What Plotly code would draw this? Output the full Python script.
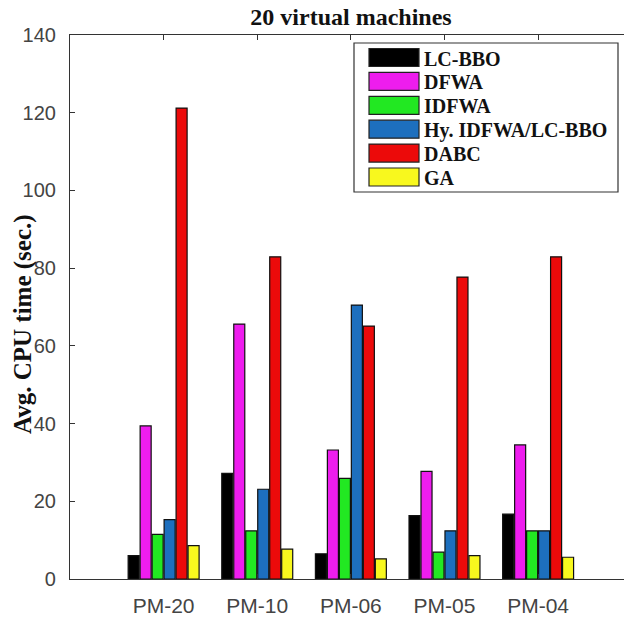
import plotly.graph_objects as go

categories = ["PM-20", "PM-10", "PM-06", "PM-05", "PM-04"]
series_names = ["LC-BBO", "DFWA", "IDFWA", "Hy. IDFWA/LC-BBO", "DABC", "GA"]
lc_bbo = [6.0, 27.2, 6.5, 16.3, 16.7]
dfwa = [39.4, 65.6, 33.2, 27.7, 34.5]
idfwa = [11.5, 12.4, 25.9, 6.9, 12.4]
hy_idfwa_lcbbo = [15.3, 23.1, 70.5, 12.4, 12.4]
dabc = [121.2, 82.9, 65.1, 77.7, 82.9]
ga = [8.6, 7.7, 5.2, 6.0, 5.6]
y_ticks = [0, 20, 40, 60, 80, 100, 120, 140]

series_values = [lc_bbo, dfwa, idfwa, hy_idfwa_lcbbo, dabc, ga]
colors = ["#000000", "#EE1DEE", "#22E822", "#1D6FBE", "#EC0A0A", "#F8F81E"]

W, H = 624, 621
L, T, B = 70, 35, 579
x_pos = list(range(1, len(categories) + 1))

fig = go.Figure()
for name, vals, c in zip(series_names, series_values, colors):
    fig.add_trace(go.Bar(x=x_pos, y=vals, name=name, marker=dict(color=c, line=dict(color="#111111", width=1.2)),
                         showlegend=False))

def px_x(p):
    return (p - L) / (W - L)

def px_y(p):
    return (B - p) / (B - T)

shapes = []
annotations = []
# legend box
shapes.append(dict(type="rect", xref="paper", yref="paper", x0=px_x(354), x1=px_x(618), y0=px_y(192), y1=px_y(43),
                   line=dict(color="#333333", width=1.2), fillcolor="white", layer="above"))
for i, (name, c) in enumerate(zip(series_names, colors)):
    cy = 57.5 + i * 23.9
    shapes.append(dict(type="rect", xref="paper", yref="paper", x0=px_x(369), x1=px_x(419),
                       y0=px_y(cy + 9), y1=px_y(cy - 9), fillcolor=c, line=dict(color="#222222", width=1.2),
                       layer="above"))
    annotations.append(dict(xref="paper", yref="paper", x=px_x(422), y=px_y(cy + 1), text="<b>%s</b>" % name,
                            showarrow=False, xanchor="left", yanchor="middle",
                            font=dict(family="Liberation Serif", size=20, color="#111111")))

# y-axis title
annotations.append(dict(xref="paper", yref="paper", x=px_x(23), y=px_y(324), text="<b>Avg. CPU time (sec.)</b>",
                        textangle=-90, showarrow=False, xanchor="center", yanchor="middle",
                        font=dict(family="Liberation Serif", size=25, color="#111111")))

fig.update_layout(
    width=W, height=H,
    margin=dict(l=L, r=0, t=T, b=H - B, pad=0, autoexpand=False),
    paper_bgcolor="white", plot_bgcolor="white",
    barmode="group", bargap=0.232, bargroupgap=0.08,
    shapes=shapes, annotations=annotations,
    title=dict(text="<b>20 virtual machines</b>", x=351 / W, xanchor="center", y=1 - 17 / H, yanchor="middle",
               font=dict(family="Liberation Serif", size=24, color="#111111")),
)
fig.update_xaxes(range=[0, (W - 69.25) / 93.75], tickmode="array", tickvals=x_pos, ticktext=categories,
                 showline=True, linecolor="#333333", linewidth=1.2, mirror="ticks", ticks="inside", ticklen=5,
                 tickcolor="#333333", showgrid=False, zeroline=False, ticklabelstandoff=8,
                 tickfont=dict(family="Liberation Sans", size=21, color="#444444"))
fig.update_yaxes(range=[0, 140], tickmode="array", tickvals=y_ticks, showline=True, linecolor="#333333",
                 linewidth=1.2, mirror=False, ticks="inside", ticklen=5, tickcolor="#333333", showgrid=False,
                 zeroline=False, ticklabelstandoff=9,
                 tickfont=dict(family="Liberation Sans", size=20, color="#444444"))

fig.write_html("out.html")
